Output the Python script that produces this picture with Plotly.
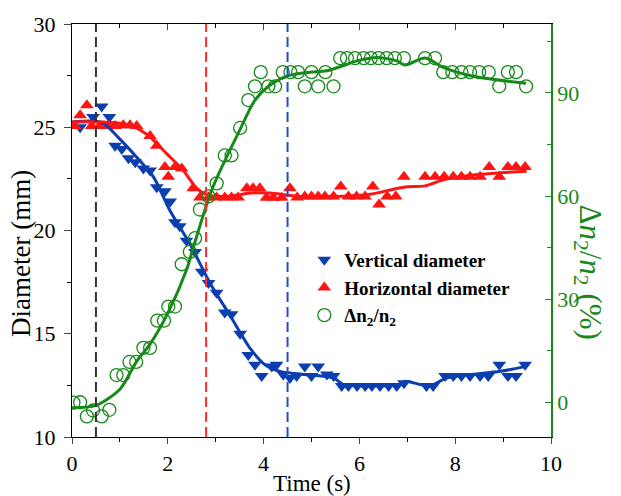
import plotly.graph_objects as go

# ---------------- data ----------------
t_vert = [0.17, 0.44, 0.62, 0.78, 0.90, 1.04, 1.18, 1.32, 1.49, 1.63, 1.77, 1.94, 2.05,
          2.15, 2.25, 2.39, 2.57, 2.71, 2.85, 3.02, 3.19, 3.33, 3.51, 3.68, 3.82, 3.96,
          4.17, 4.27, 4.41, 4.55, 4.69, 4.86, 5.00, 5.14, 5.32, 5.46, 5.63, 5.77, 5.95,
          6.12, 6.26, 6.43, 6.61, 6.78, 6.93, 7.40, 7.54, 7.79, 7.96, 8.13, 8.31, 8.52,
          8.69, 8.92, 9.10, 9.27, 9.46]
d_vert = [25.0, 25.5, 26.0, 25.5, 24.1, 23.95, 23.5, 23.3, 23.0, 22.9, 22.1, 21.9, 21.4,
          20.4, 20.2, 19.5, 18.96, 18.0, 17.46, 16.98, 16.03, 15.95, 15.0, 13.97, 13.5, 12.95,
          13.42, 13.5, 13.03, 12.86, 12.95, 13.42, 12.95, 13.42, 13.03, 12.95, 12.47, 12.47, 12.47,
          12.47, 12.47, 12.47, 12.47, 12.47, 12.6, 12.47, 12.47, 12.95, 12.95, 12.95, 12.95, 12.95,
          12.95, 13.5, 12.95, 12.95, 13.5]

t_horz = [0.06, 0.17, 0.31, 0.41, 0.58, 0.76, 0.90, 1.07, 1.21, 1.35, 1.63, 1.77, 1.94,
          2.01, 2.15, 2.29, 2.53, 2.67, 2.85, 3.02, 3.19, 3.33, 3.47, 3.65, 3.78, 3.92,
          4.06, 4.20, 4.38, 4.55, 4.70, 4.86, 5.00, 5.14, 5.28, 5.46, 5.61, 5.77, 5.94,
          6.12, 6.28, 6.41, 6.58, 6.76, 6.93, 7.37, 7.58, 7.77, 7.96, 8.13, 8.31, 8.52,
          8.71, 8.92, 9.10, 9.27, 9.46]
d_horz = [25.06, 25.58, 26.06, 25.06, 25.06, 25.06, 25.06, 25.1, 25.1, 25.06, 24.58, 24.1, 23.08,
          22.6, 23.08, 23.0, 22.05, 21.6, 21.6, 21.6, 21.6, 21.6, 21.6, 22.05, 22.05, 22.05,
          21.58, 21.58, 21.58, 22.05, 21.6, 21.65, 21.65, 21.65, 21.65, 21.65, 22.13, 21.65, 21.65,
          21.65, 22.13, 21.26, 21.65, 21.65, 22.6, 22.6, 22.6, 22.6, 22.6, 22.6, 22.6, 22.6,
          23.08, 22.6, 23.08, 23.08, 23.08]

t_dn = [0.03, 0.17, 0.31, 0.44, 0.62, 0.78, 0.93, 1.07, 1.20, 1.34, 1.49, 1.63, 1.78, 1.92,
        2.01, 2.15, 2.29, 2.46, 2.57, 2.67, 2.85, 3.02, 3.19, 3.33, 3.51, 3.68, 3.82, 3.94,
        4.10, 4.24, 4.40, 4.56, 4.72, 4.86, 5.00, 5.14, 5.29, 5.46, 5.60, 5.74, 5.91, 6.09,
        6.24, 6.40, 6.57, 6.74, 6.93, 7.37, 7.58, 7.75, 7.94, 8.13, 8.31, 8.50, 8.70, 8.92,
        9.10, 9.27, 9.48]
r_dn = [0.0, 0.1, -4.0, -2.3, -4.0, -2.1, 8.0, 8.0, 11.8, 11.8, 15.9, 15.9, 23.8, 23.8,
        27.9, 27.9, 40.2, 43.8, 47.8, 56.1, 59.9, 63.7, 71.8, 71.8, 79.8, 87.9, 91.9, 96.0,
        91.9, 91.9, 96.0, 96.0, 96.0, 91.9, 96.0, 91.9, 96.0, 91.9, 100.1, 100.1, 100.1, 100.1,
        100.1, 100.1, 100.1, 100.1, 100.1, 100.1, 100.1, 96.0, 96.0, 96.0, 96.0, 96.0, 96.0, 91.9,
        96.0, 96.0, 91.9]

# fitted / smoothed curves
fit_t_vert = [0, 0.4, 0.65, 0.97, 1.35, 1.7, 2.05, 2.46, 2.88, 3.30, 3.72, 4.03, 4.34, 4.76,
              5.46, 5.66, 6.85, 6.95, 7.47, 7.82, 8.94, 9.49]
fit_d_vert = [25.26, 25.3, 25.2, 24.5, 23.55, 22.6, 20.94, 19.36, 17.46, 15.88, 14.29, 13.5,
              13.18, 13.05, 12.86, 12.55, 12.55, 12.7, 12.47, 12.86, 13.18, 13.42]
fit_t_horz = [0, 0.58, 1.14, 1.56, 1.98, 2.32, 2.6, 2.81, 3.23, 3.72, 4.13, 4.76, 6.15, 6.92,
              7.37, 7.75, 8.52, 9.49]
fit_d_horz = [25.26, 25.26, 25.14, 24.66, 23.71, 22.92, 22.05, 21.73, 21.65, 21.81, 21.81,
              21.65, 21.73, 22.1, 22.16, 22.45, 22.72, 22.87]
fit_t_dn = [0, 0.5, 1.0, 1.35, 1.63, 2.0, 2.39, 2.53, 2.88, 3.05, 3.51, 3.82, 4.13, 4.52,
            4.97, 5.32, 6.01, 6.36, 6.78, 6.95, 7.37, 7.75, 8.38, 9.48]
fit_r_dn = [-1.5, -0.8, 3.9, 12, 17, 26, 38.5, 45, 60.4, 66.1, 79.4, 87.9, 92.2, 95,
            96, 96.4, 99.5, 100.3, 99.3, 98.1, 100.1, 97.4, 94.8, 92.8]

event_times = [0.5, 2.8, 4.5]
event_colors = ["#333333", "#ff2a2a", "#1f4fc8"]

x_ticks = [0, 2, 4, 6, 8, 10]
y_ticks = [10, 15, 20, 25, 30]
y2_ticks = [0, 30, 60, 90]

BLUE = "#0b3fb0"
RED = "#ff1414"
GREEN = "#17891a"
FONT = "Liberation Serif"
TICK = 22

fig = go.Figure()

fig.add_trace(go.Scatter(x=t_vert, y=d_vert, mode="markers", name="Vertical diameter",
                         marker=dict(symbol="triangle-down", size=12, color=BLUE)))
fig.add_trace(go.Scatter(x=t_horz, y=d_horz, mode="markers", name="Horizontal diameter",
                         marker=dict(symbol="triangle-up", size=12, color=RED)))
fig.add_trace(go.Scatter(x=t_dn, y=r_dn, mode="markers", name="Δn<sub>2</sub>/n<sub>2</sub>",
                         yaxis="y2",
                         marker=dict(symbol="circle-open", size=13, color=GREEN,
                                     line=dict(width=1.3, color=GREEN))))
fig.add_trace(go.Scatter(x=fit_t_vert, y=fit_d_vert, mode="lines", showlegend=False,
                         line=dict(color=BLUE, width=3, shape="spline", smoothing=0.8)))
fig.add_trace(go.Scatter(x=fit_t_horz, y=fit_d_horz, mode="lines", showlegend=False,
                         line=dict(color=RED, width=3, shape="spline", smoothing=0.8)))
fig.add_trace(go.Scatter(x=fit_t_dn, y=fit_r_dn, mode="lines", showlegend=False, yaxis="y2",
                         line=dict(color=GREEN, width=3, shape="spline", smoothing=0.8)))

for tx, c in zip(event_times, event_colors):
    fig.add_vline(x=tx, line=dict(color=c, width=2, dash="10px,5px"))

# dummy trace for top axis
fig.add_trace(go.Scatter(x=[None], y=[None], xaxis="x2", showlegend=False, hoverinfo="skip"))

fig.update_layout(
    width=621, height=496,
    margin=dict(l=72, r=70, t=16, b=59),
    paper_bgcolor="white", plot_bgcolor="white",
    font=dict(family=FONT, size=TICK, color="black"),
    xaxis=dict(range=[0, 10], tickvals=x_ticks, ticks="outside", ticklen=6, tickwidth=1.2,
               showline=True, linecolor="black", linewidth=1.2, showgrid=False, zeroline=False,
               minor=dict(dtick=1, ticks="outside", ticklen=4, tickcolor="black"),
               tickfont=dict(size=TICK)),
    xaxis2=dict(range=[0, 10], overlaying="x", side="top", tickvals=x_ticks, ticks="inside",
                ticklen=6, showticklabels=False, showline=True, linecolor="black", linewidth=1.2,
                showgrid=False, zeroline=False,
                minor=dict(dtick=1, ticks="inside", ticklen=4, tickcolor="black")),
    yaxis=dict(range=[10, 30], tickvals=y_ticks, ticks="outside", ticklen=7, tickwidth=1.2,
               showline=True, linecolor="black", linewidth=1.2, showgrid=False, zeroline=False,
               minor=dict(dtick=2.5, ticks="outside", ticklen=4, tickcolor="black"),
               tickfont=dict(size=TICK), ticklabelstandoff=4),
    yaxis2=dict(range=[-10, 110], tickvals=y2_ticks, overlaying="y", side="right",
                ticks="inside", ticklen=6, tickcolor=GREEN, tickwidth=1.2,
                showline=True, linecolor=GREEN, linewidth=1.5, showgrid=False, zeroline=False,
                minor=dict(dtick=15, ticks="inside", ticklen=4, tickcolor=GREEN),
                tickfont=dict(size=TICK, color=GREEN)),
    legend=dict(x=0.485, y=0.475, xanchor="left", yanchor="top", bgcolor="rgba(0,0,0,0)",
                font=dict(family=FONT, size=19, color="black", weight="bold"),
                itemwidth=30, tracegroupgap=0),
    annotations=[
        dict(text="Diameter (mm)", xref="paper", yref="paper", x=-0.108, y=0.444,
             textangle=-90, showarrow=False, font=dict(size=27, color="black"),
             xanchor="center", yanchor="middle"),
        dict(text="Time (s)", xref="paper", yref="paper", x=0.5, y=-0.112,
             showarrow=False, font=dict(size=23, color="black"),
             xanchor="center", yanchor="middle"),
        dict(text="Δ<i>n</i><sub>2</sub>/<i>n</i><sub>2</sub> (%)", xref="paper", yref="paper",
             x=1.078, y=0.4, textangle=90, showarrow=False,
             font=dict(size=31, color=GREEN), xanchor="center", yanchor="middle"),
    ],
)

fig.write_html("out.html")
